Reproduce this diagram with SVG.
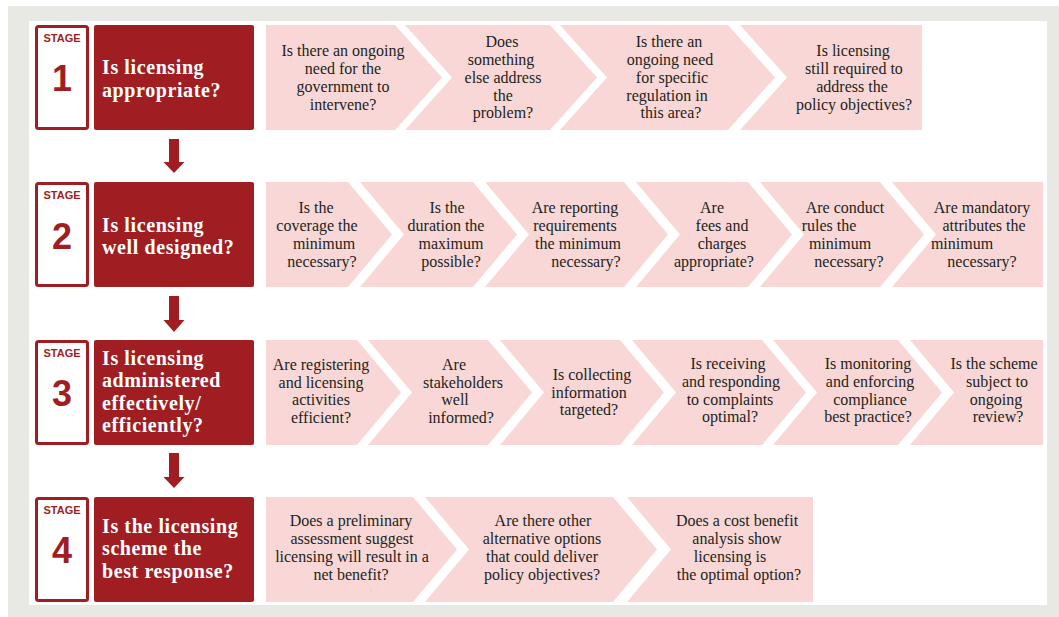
<svg xmlns="http://www.w3.org/2000/svg" width="1059" height="617" viewBox="0 0 1059 617">
<style>
.bg{fill:#e8e8e4}
.panel{fill:#ffffff}
.stagebox{fill:#ffffff;stroke:#a01e22;stroke-width:3}
.titlebox{fill:#a01e22}
.stagelbl{font-family:"Liberation Sans",Arial,sans-serif;font-weight:bold;font-size:11px;fill:#a01e22;text-anchor:middle}
.stagenum{font-family:"Liberation Sans",Arial,sans-serif;font-weight:bold;font-size:36px;fill:#a01e22;text-anchor:middle}
.title{font-family:"Liberation Serif","Times New Roman",serif;font-weight:bold;font-size:20px;letter-spacing:0.6px;fill:#ffffff}
.chev{fill:#f8d7d6}
.q{font-family:"Liberation Serif","Times New Roman",serif;font-size:16px;fill:#231f20;text-anchor:middle}
.arrow{fill:#a01e22}
</style>
<rect class="bg" x="8" y="6" width="1051" height="611"/>
<rect class="panel" x="29" y="21" width="1018" height="584"/>

<!-- Stage 1 -->
<g id="stage1">
<rect class="stagebox" x="36.5" y="26.5" width="51" height="102" rx="2"/>
<text class="stagelbl" x="62" y="42">STAGE</text>
<text class="stagenum" x="62" y="91">1</text>
</g>
<g id="stage1-title">
<rect class="titlebox" x="94" y="25" width="160" height="105" rx="2"/>
<text class="title" x="102" y="74">Is licensing</text>
<text class="title" x="102" y="96.5">appropriate?</text>
</g>
<g id="s1q1"><polygon class="chev" points="266,25 395,25 442,77.5 395,130 266,130"/>
<text class="q" x="343" y="56">Is there an ongoing</text><text class="q" x="343" y="74">need for the</text><text class="q" x="343" y="92">government to</text><text class="q" x="343" y="110">intervene?</text></g>
<g id="s1q2"><polygon class="chev" points="405,25 550,25 597,77.5 550,130 405,130 452,77.5"/>
<text class="q" x="502" y="47">Does</text><text class="q" x="501" y="65">something</text><text class="q" x="503" y="83">else address</text><text class="q" x="503" y="100.5">the</text><text class="q" x="503" y="118">problem?</text></g>
<g id="s1q3"><polygon class="chev" points="560,25 728,25 775,77.5 728,130 560,130 607,77.5"/>
<text class="q" x="669" y="47">Is there an</text><text class="q" x="670" y="65">ongoing need</text><text class="q" x="672" y="83">for specific</text><text class="q" x="667" y="100.5">regulation in</text><text class="q" x="671" y="118">this area?</text></g>
<g id="s1q4"><polygon class="chev" points="740,25 922,25 922,130 740,130 787,77.5"/>
<text class="q" x="853" y="56">Is licensing</text><text class="q" x="854" y="74">still required to</text><text class="q" x="852" y="92">address the</text><text class="q" x="854" y="110">policy objectives?</text></g>

<!-- Stage 2 -->
<g id="stage2">
<rect class="stagebox" x="36.5" y="183.5" width="51" height="102" rx="2"/>
<text class="stagelbl" x="62" y="199">STAGE</text>
<text class="stagenum" x="62" y="249">2</text>
</g>
<g id="stage2-title">
<rect class="titlebox" x="94" y="182" width="160" height="105" rx="2"/>
<text class="title" x="102" y="231.5">Is licensing</text>
<text class="title" x="102" y="254">well designed?</text>
</g>
<g id="s2q1"><polygon class="chev" points="266,182 348,182 392,234.5 348,287 266,287"/>
<text class="q" x="316" y="213">Is the</text><text class="q" x="317" y="231">coverage the</text><text class="q" x="324" y="249">minimum</text><text class="q" x="322" y="267">necessary?</text></g>
<g id="s2q2"><polygon class="chev" points="360,182 473,182 517,234.5 473,287 360,287 404,234.5"/>
<text class="q" x="447" y="213">Is the</text><text class="q" x="446" y="231">duration the</text><text class="q" x="451" y="249">maximum</text><text class="q" x="451" y="267">possible?</text></g>
<g id="s2q3"><polygon class="chev" points="485,182 624,182 668,234.5 624,287 485,287 529,234.5"/>
<text class="q" x="575" y="213">Are reporting</text><text class="q" x="575" y="231">requirements</text><text class="q" x="578" y="249">the minimum</text><text class="q" x="586" y="267">necessary?</text></g>
<g id="s2q4"><polygon class="chev" points="636,182 748,182 792,234.5 748,287 636,287 680,234.5"/>
<text class="q" x="712" y="213">Are</text><text class="q" x="722" y="231">fees and</text><text class="q" x="722" y="249">charges</text><text class="q" x="714" y="267">appropriate?</text></g>
<g id="s2q5"><polygon class="chev" points="760,182 880,182 924,234.5 880,287 760,287 804,234.5"/>
<text class="q" x="845" y="213">Are conduct</text><text class="q" x="829" y="231">rules the</text><text class="q" x="840" y="249">minimum</text><text class="q" x="849" y="267">necessary?</text></g>
<g id="s2q6"><polygon class="chev" points="892,182 1043,182 1043,287 892,287 936,234.5"/>
<text class="q" x="982" y="213">Are mandatory</text><text class="q" x="984" y="231">attributes the</text><text class="q" x="962" y="249">minimum</text><text class="q" x="982" y="267">necessary?</text></g>

<!-- Stage 3 -->
<g id="stage3">
<rect class="stagebox" x="36.5" y="341.5" width="51" height="102" rx="2"/>
<text class="stagelbl" x="62" y="357">STAGE</text>
<text class="stagenum" x="62" y="406">3</text>
</g>
<g id="stage3-title">
<rect class="titlebox" x="94" y="340" width="160" height="105" rx="2"/>
<text class="title" x="102" y="364.5">Is licensing</text>
<text class="title" x="102" y="387">administered</text>
<text class="title" x="102" y="409.5">effectively/</text>
<text class="title" x="102" y="432">efficiently?</text>
</g>
<g id="s3q1"><polygon class="chev" points="266,340 357,340 401,392.5 357,445 266,445"/>
<text class="q" x="321" y="370">Are registering</text><text class="q" x="321" y="387.5">and licensing</text><text class="q" x="321" y="405">activities</text><text class="q" x="321" y="422.5">efficient?</text></g>
<g id="s3q2"><polygon class="chev" points="368,340 488,340 532,392.5 488,445 368,445 412,392.5"/>
<text class="q" x="454" y="370">Are</text><text class="q" x="463" y="387.5">stakeholders</text><text class="q" x="455" y="405">well</text><text class="q" x="461" y="422.5">informed?</text></g>
<g id="s3q3"><polygon class="chev" points="500,340 620,340 664,392.5 620,445 500,445 544,392.5"/>
<text class="q" x="592" y="380">Is collecting</text><text class="q" x="589" y="397.5">information</text><text class="q" x="589" y="415">targeted?</text></g>
<g id="s3q4"><polygon class="chev" points="632,340 762,340 806,392.5 762,445 632,445 676,392.5"/>
<text class="q" x="728" y="369">Is receiving</text><text class="q" x="731" y="387">and responding</text><text class="q" x="730" y="404.5">to complaints</text><text class="q" x="730" y="422">optimal?</text></g>
<g id="s3q5"><polygon class="chev" points="773,340 898,340 942,392.5 898,445 773,445 817,392.5"/>
<text class="q" x="868" y="369">Is monitoring</text><text class="q" x="870" y="387">and enforcing</text><text class="q" x="870" y="404.5">compliance</text><text class="q" x="868" y="422">best practice?</text></g>
<g id="s3q6"><polygon class="chev" points="910,340 1043,340 1043,445 910,445 954,392.5"/>
<text class="q" x="994" y="369">Is the scheme</text><text class="q" x="997" y="387">subject to</text><text class="q" x="996" y="404.5">ongoing</text><text class="q" x="998" y="422">review?</text></g>

<!-- Stage 4 -->
<g id="stage4">
<rect class="stagebox" x="36.5" y="498.5" width="51" height="102" rx="2"/>
<text class="stagelbl" x="62" y="514">STAGE</text>
<text class="stagenum" x="62" y="563">4</text>
</g>
<g id="stage4-title">
<rect class="titlebox" x="94" y="497" width="160" height="105" rx="2"/>
<text class="title" x="102" y="532.5">Is the licensing</text>
<text class="title" x="102" y="555">scheme the</text>
<text class="title" x="102" y="577.5">best response?</text>
</g>
<g id="s4q1"><polygon class="chev" points="266,497 413,497 457,549.5 413,602 266,602"/>
<text class="q" x="351" y="526">Does a preliminary</text><text class="q" x="352" y="544">assessment suggest</text><text class="q" x="352" y="562">licensing will result in a</text><text class="q" x="351" y="580">net benefit?</text></g>
<g id="s4q2"><polygon class="chev" points="425,497 613,497 657,549.5 613,602 425,602 469,549.5"/>
<text class="q" x="543" y="526">Are there other</text><text class="q" x="542" y="544">alternative options</text><text class="q" x="542" y="562">that could deliver</text><text class="q" x="542" y="580">policy objectives?</text></g>
<g id="s4q3"><polygon class="chev" points="627,497 813,497 813,602 627,602 671,549.5"/>
<text class="q" x="737" y="526">Does a cost benefit</text><text class="q" x="737" y="544">analysis show</text><text class="q" x="730" y="562">licensing is</text><text class="q" x="739" y="580">the optimal option?</text></g>

<g id="connectors">
<polygon class="arrow" points="169,139 179,139 179,162 184.5,162 174,173 163.5,162 169,162"/>
<polygon class="arrow" points="169,296 179,296 179,320 184.5,320 174,332 163.5,320 169,320"/>
<polygon class="arrow" points="169,453 179,453 179,477 184.5,477 174,488 163.5,477 169,477"/>
</g>
</svg>
